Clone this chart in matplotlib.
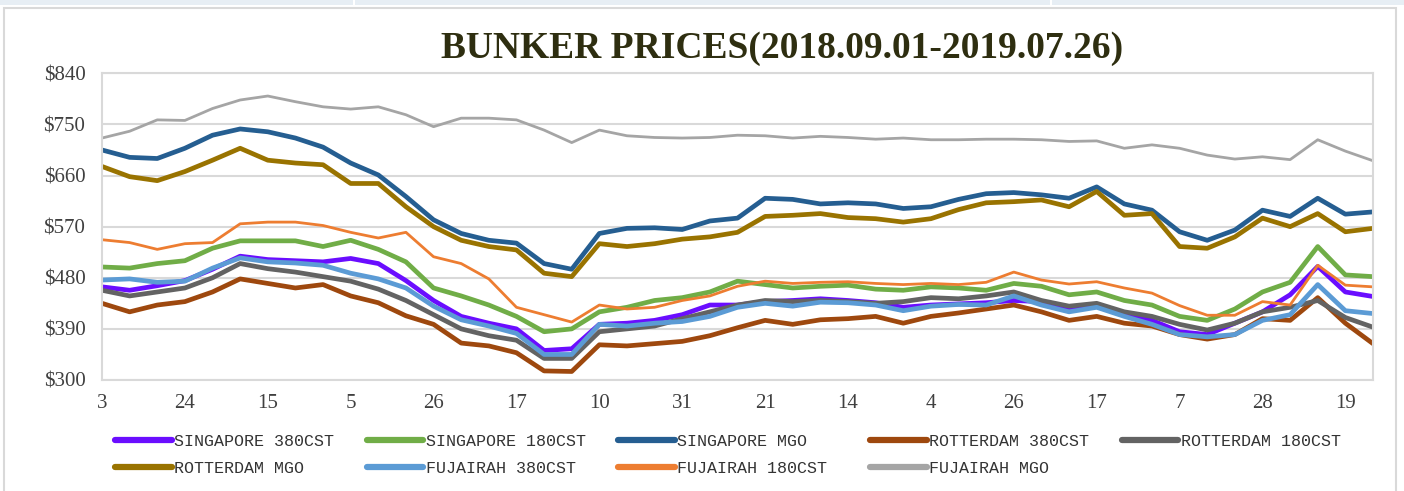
import numpy as np
import matplotlib.pyplot as plt
from matplotlib.patches import Rectangle

# weekly samples (every 5 trading days), 2018-09-03 .. 2019-07-26
step = 5
tick_labels = ['3', '24', '15', '5', '26', '17', '10', '31', '21', '14', '4', '26', '17', '7', '28', '19']

sg_380 = [464, 458, 466, 475, 495, 518, 512, 510, 508, 514, 505, 475, 440, 412, 400, 390, 352, 355,
          398, 400, 405, 415, 432, 432, 438, 440, 443, 440, 436, 428, 432, 434, 436,
          440, 438, 425, 432, 418, 405, 385, 380, 400, 420, 450, 500, 455, 447]
sg_180 = [499, 497, 505, 510, 532, 545, 545, 545, 535, 546, 530, 508, 462, 448, 432, 412, 385, 390,
          420, 428, 440, 445, 455, 474, 468, 462, 465, 467, 460, 458, 464, 462, 458,
          470, 465, 450, 455, 440, 432, 412, 405, 425, 455, 472, 535, 485, 482]
sg_mgo = [705, 692, 690, 708, 731, 742, 737, 726, 710, 682, 661, 623, 582, 558, 546, 541, 505, 495,
          558, 567, 568, 565, 580, 585, 620, 618, 610, 612, 610, 602, 605, 618, 628,
          630, 626, 620, 640, 610, 599, 561, 546, 564, 599, 588, 620, 592, 596]
rt_380 = [435, 420, 432, 438, 455, 478, 470, 462, 468, 448, 436, 413, 398, 365, 360, 348, 316, 315,
          362, 360, 364, 368, 378, 392, 405, 398, 406, 408, 412, 400, 412, 418, 425,
          432, 420, 405, 412, 400, 395, 380, 372, 380, 408, 405, 445, 400, 364]
rt_180 = [458, 448, 455, 462, 480, 505, 496, 490, 482, 474, 460, 440, 415, 390, 378, 370, 338, 338,
          385, 390, 395, 408, 420, 432, 440, 438, 440, 438, 435, 438, 445, 443, 448,
          455, 440, 430, 435, 420, 412, 398, 388, 400, 420, 428, 440, 410, 393]
rt_mgo = [676, 658, 651, 667, 687, 708, 687, 682, 679, 646, 646, 605, 570, 546, 535, 529, 488, 482,
          540, 535, 540, 548, 552, 560, 588, 590, 593, 586, 584, 578, 584, 600, 612,
          614, 617, 605, 632, 590, 593, 535, 532, 552, 585, 570, 593, 561, 567]
fj_380 = [476, 478, 472, 474, 497, 515, 508, 506, 502, 488, 478, 462, 430, 406, 395, 382, 345, 345,
          398, 395, 400, 403, 412, 428, 435, 430, 437, 436, 432, 422, 430, 433, 432,
          448, 432, 420, 428, 412, 398, 380, 376, 380, 405, 415, 468, 422, 417]
fj_180 = [547, 542, 530, 540, 542, 575, 578, 578, 572, 560, 550, 560, 517, 505, 478, 428, 415, 402,
          432, 425, 428, 440, 448, 465, 474, 470, 472, 473, 470, 468, 470, 468, 472,
          490, 476, 469, 473, 462, 453, 431, 414, 414, 438, 432, 502, 467, 464]
fj_mgo = [726, 738, 758, 757, 778, 793, 800, 790, 781, 777, 781, 767, 746, 761, 761, 758, 740, 718,
          740, 730, 727, 726, 727, 731, 730, 726, 729, 727, 724, 726, 723, 723, 724,
          724, 723, 720, 721, 708, 714, 708, 696, 689, 693, 688, 723, 703, 686]

series = [
    ("SINGAPORE 380CST", sg_380, '#6A0DFF', 3.4),
    ("SINGAPORE 180CST", sg_180, '#70AD47', 3.4),
    ("SINGAPORE MGO", sg_mgo, '#255E91', 3.4),
    ("ROTTERDAM 380CST", rt_380, '#9E480E', 3.4),
    ("ROTTERDAM 180CST", rt_180, '#636363', 3.4),
    ("ROTTERDAM MGO", rt_mgo, '#997300', 3.4),
    ("FUJAIRAH 380CST", fj_380, '#5B9BD5', 3.4),
    ("FUJAIRAH 180CST", fj_180, '#ED7D31', 2.0),
    ("FUJAIRAH MGO", fj_mgo, '#A5A5A5', 2.0),
]

W, H = 1404, 491
fig = plt.figure(figsize=(W / 100, H / 100), dpi=100)

# screenshot strip + chart border
fig.patches.append(Rectangle((0, 1 - 5 / H), 1, 5 / H, transform=fig.transFigure,
                             facecolor='#E7EEF4', edgecolor='none'))
for sx in [353, 1050]:
    fig.patches.append(Rectangle((sx / W, 1 - 5 / H), 2 / W, 5 / H, transform=fig.transFigure,
                                 facecolor='white', edgecolor='none'))
fig.patches.append(Rectangle((4 / W, -0.05), (1396 - 4) / W, 1.05 - 8 / H, transform=fig.transFigure,
                             facecolor='none', edgecolor='#D9D9D9', lw=1.5))

ax = fig.add_axes([102 / W, 1 - 380 / H, (1373 - 102) / W, (380 - 73.3) / H])

handles = []
for name, vals, color, lw in series:
    x = np.arange(len(vals)) * step
    ln, = ax.plot(x, vals, color=color, lw=lw, label=name,
                  solid_capstyle='round', solid_joinstyle='round')
    handles.append(ln)

ax.set_xlim(0, (len(sg_380) - 1) * step)
ax.set_ylim(300, 840)
ax.set_yticks(np.arange(300, 841, 90))
ax.set_yticklabels(['$%d' % v for v in np.arange(300, 841, 90)])
ax.set_xticks(np.arange(len(tick_labels)) * 15)
ax.set_xticklabels(tick_labels)
ax.grid(axis='y', color='#D9D9D9', lw=1.5)
ax.set_axisbelow(True)
for sp in ax.spines.values():
    sp.set_color('#D9D9D9')
    sp.set_linewidth(1.5)
ax.tick_params(length=0, labelsize=15, labelcolor='#404040')
ax.tick_params(axis='y', pad=12)
ax.tick_params(axis='x', pad=10)
for lab in ax.get_xticklabels() + ax.get_yticklabels():
    lab.set_family('Liberation Serif')

fig.text(782 / W, 1 - 48 / H, "BUNKER PRICES(2018.09.01-2019.07.26)", ha='center', va='center',
         family='Liberation Serif', fontweight='bold', fontsize=27, color='#2E2E10')

# row-major legend order for 5 columns
order = [0, 5, 1, 6, 2, 7, 3, 8, 4]
labels = [series[i][0] for i in order]
labels[5] = labels[5] + ' '  # keep column 3 as wide as the others
leg = fig.legend([handles[i] for i in order], labels,
                 ncol=5, loc='upper left', bbox_to_anchor=(115 / W, 1 - 434 / H),
                 frameon=False, borderpad=0, borderaxespad=0,
                 prop={'family': 'Liberation Mono', 'size': 12},
                 handlelength=3.4, handletextpad=0.15, columnspacing=1.95, labelspacing=0.72)
for t in leg.get_texts():
    t.set_color('#333333')
for lh in leg.get_lines():
    lh.set_linewidth(4.5)

fig.savefig('out.png', dpi=100)
